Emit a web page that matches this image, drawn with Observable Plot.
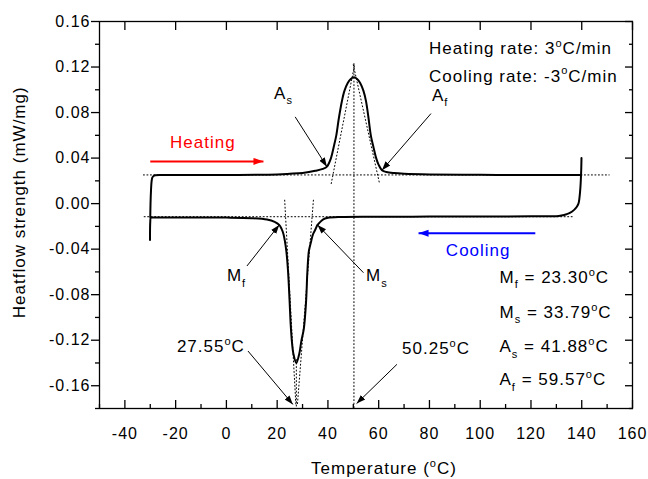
<!DOCTYPE html>
<html><head><meta charset="utf-8">
<script src="https://cdn.jsdelivr.net/npm/d3@7"></script>
<script src="https://cdn.jsdelivr.net/npm/@observablehq/plot@0.6"></script>
<style>body{margin:0;background:#fff;}</style>
</head><body><div id="chart"></div>
<script>
// ---- data ----
const heatT = [-30.0,-29.9,-29.7,-29.5,-29.2,-28.7,-28,-25,0,20,25,30,35,38,39.6,41.2,42.3,43.3,44.3,45.5,46.5,47.8,49,50.25,51.5,52.7,54,55,56,56.9,57.9,59,60,61.3,63,66,70,80,100,120,139.8];
const heatH = [-0.012,0.0,0.012,0.019,0.0228,0.0243,0.0249,0.0251,0.0252,0.0256,0.0262,0.027,0.0288,0.0305,0.0325,0.04,0.05,0.06,0.075,0.09,0.099,0.106,0.1095,0.111,0.1095,0.106,0.099,0.09,0.075,0.06,0.05,0.04,0.034,0.0294,0.0278,0.0268,0.0262,0.0256,0.0253,0.0252,0.0252];
const coolT = [139.9,139.8,139.5,139.1,138.7,138.0,137.0,135.5,134,132,130,120,100,80,60,45,40,38,36.8,35.9,35,34.1,33.3,32.5,31.9,31.4,30.5,29.5,28.7,27.55,26.4,25.8,25.3,24.9,24.3,23.6,22.5,21.7,20.8,19,16,10,0,-20,-29,-29.8,-30.0,-30.1];
const coolH = [0.04,0.03,0.015,0.005,0.0,-0.003,-0.0055,-0.008,-0.0093,-0.0104,-0.011,-0.0112,-0.0113,-0.0114,-0.0115,-0.0117,-0.0125,-0.014,-0.0165,-0.0187,-0.023,-0.027,-0.034,-0.0416,-0.06,-0.0858,-0.11,-0.121,-0.132,-0.14,-0.132,-0.121,-0.105,-0.0858,-0.06,-0.0416,-0.027,-0.022,-0.0187,-0.016,-0.014,-0.0128,-0.0123,-0.0122,-0.0122,-0.0125,-0.016,-0.032];

const xTicks = [-40,-20,0,20,40,60,80,100,120,140,160];
const xMinor = [-50,-30,-10,10,30,50,70,90,110,130,150];
const yTicks = [-0.16,-0.12,-0.08,-0.04,0,0.04,0.08,0.12,0.16];
const yMinor = [-0.18,-0.14,-0.10,-0.06,-0.02,0.02,0.06,0.10,0.14];

// dotted construction lines (baselines, tangents, peak verticals)
const guideId = ["hb","hb","cb","cb","v50","v50","tAs","tAs","tAf","tAf","tMf","tMf","tMs","tMs","v27","v27"];
const guideT  = [-32.7,150.8,-32.4,136.6,50.25,50.25,41.3,50.6,60.2,49.9,22.96,27.36,34.28,28.0,27.55,27.55];
const guideV  = [0.0252,0.0252,-0.0115,-0.0115,0.123,-0.18,0.0176,0.123,0.019,0.123,0.003,-0.176,0.003,-0.176,-0.137,-0.18];

// annotation arrows
const arrFromT = [27.1,80.6,8.1,54.0,8.5,67.2];
const arrFromV = [0.0762,0.0791,-0.0548,-0.0607,-0.1295,-0.1412];
const arrToT   = [39.6,61.3,20.8,35.9,26.2,51.3];
const arrToV   = [0.0325,0.0294,-0.0187,-0.0187,-0.1764,-0.1757];
const lblText  = ["A_{s}","A_{f}","M_{f}","M_{s}","27.55^{o}C","50.25^{o}C"];
const lblT     = [18.8,81.0,0.2,55.0,-19.5,69.2];
const lblV     = [0.0964,0.0951,-0.0636,-0.0636,-0.1255,-0.1277];

// process direction arrows
const dirText  = ["Heating","Cooling"];
const dirColor = ["#ff0000","#0000ff"];
const dirFromT = [-30,121.7];
const dirToT   = [14.6,75.7];
const dirArrV  = [0.0371,-0.026];
const dirLblT  = [-9.3,99.2];
const dirLblV  = [0.0536,-0.0413];

const rateText = ["Heating rate: 3^{o}C/min","Cooling rate: -3^{o}C/min"];
const rateV    = [0.136,0.112];
const rateT    = 79.8;
const resText  = ["M_{f} = 23.30^{o}C","M_{s} = 33.79^{o}C","A_{s} = 41.88^{o}C","A_{f} = 59.57^{o}C"];
const resV     = [-0.065,-0.096,-0.126,-0.155];
const resT     = 107.6;

// ---- tables ----
const heat = heatT.map((t,i)=>({T:t,V:heatH[i]}));
const cool = coolT.map((t,i)=>({T:t,V:coolH[i]}));
const guides = guideT.map((t,i)=>({id:guideId[i],T:t,V:guideV[i]}));
const arrows = arrFromT.map((t,i)=>({x1:t,y1:arrFromV[i],x2:arrToT[i],y2:arrToV[i]}));
const labels = lblText.map((s,i)=>({s,T:lblT[i],V:lblV[i]}));
const dirs = dirText.map((s,i)=>({s,c:dirColor[i],x1:dirFromT[i],x2:dirToT[i],y:dirArrV[i],lt:dirLblT[i],lv:dirLblV[i]}));
const rates = rateText.map((s,i)=>({s,T:rateT,V:rateV[i]}));
const results = resText.map((s,i)=>({s,T:resT,V:resV[i]}));

const none = () => "";
const FS = 17;

const plot = Plot.plot({
  width: 648, height: 479,
  marginLeft: 99, marginRight: 16, marginTop: 21, marginBottom: 71,
  x: {domain: [-50,160]},
  y: {domain: [-0.18,0.16]},
  style: {fontFamily: "'Liberation Sans', Arial, sans-serif", letterSpacing: "1px", background: "white", overflow: "visible"},
  marks: [
    Plot.line(guides, {x:"T", y:"V", z:"id", stroke:"black", strokeWidth:1, strokeDasharray:"1,2.5"}),
    Plot.line(heat, {x:"T", y:"V", stroke:"black", strokeWidth:2, curve:"catmull-rom"}),
    Plot.line(cool, {x:"T", y:"V", stroke:"black", strokeWidth:2, curve:"catmull-rom"}),
    Plot.link(arrows, {x1:"x1", y1:"y1", x2:"x2", y2:"y2", stroke:"black", strokeWidth:1, markerEnd:"arrow"}),
    Plot.link(dirs.slice(0,1), {x1:"x1", x2:"x2", y1:"y", y2:"y", stroke:dirColor[0], strokeWidth:2, markerEnd:"arrow"}),
    Plot.link(dirs.slice(1,2), {x1:"x1", x2:"x2", y1:"y", y2:"y", stroke:dirColor[1], strokeWidth:2, markerEnd:"arrow"}),
    Plot.text(dirs.slice(0,1), {x:"lt", y:"lv", text:"s", fill:dirColor[0], fontSize:FS}),
    Plot.text(dirs.slice(1,2), {x:"lt", y:"lv", text:"s", fill:dirColor[1], fontSize:FS}),
    Plot.text(labels, {x:"T", y:"V", text:"s", textAnchor:"start", fill:"black", fontSize:FS}),
    Plot.text(rates, {x:"T", y:"V", text:"s", textAnchor:"start", fill:"black", fontSize:FS}),
    Plot.text(results, {x:"T", y:"V", text:"s", textAnchor:"start", fill:"black", fontSize:FS}),
    Plot.text([0], {frameAnchor:"left", textAnchor:"middle", lineAnchor:"middle", text:()=>"Heatflow strength (mW/mg)", rotate:-90, dx:-80, dy:-12.7, fill:"black", fontSize:FS}),
    Plot.text([0], {frameAnchor:"bottom", textAnchor:"middle", lineAnchor:"middle", text:()=>"Temperature (^{o}C)", dx:18, dy:59.8, fill:"black", fontSize:FS}),
    Plot.frame({stroke:"black", strokeWidth:1.3}),
    Plot.axisY({anchor:"left", ticks:yTicks, tickSize:8, tickPadding:1, tickFormat:d=>d.toFixed(2), label:null, fontSize:16, stroke:"black", fill:"black", strokeWidth:1.3}),
    Plot.axisY({anchor:"left", ticks:yMinor, tickSize:4, tickFormat:none, label:null, stroke:"black", fill:"none", strokeWidth:1.3}),
    Plot.axisY({anchor:"right", ticks:yTicks, tickSize:8, dx:-8, tickFormat:none, label:null, stroke:"black", fill:"none", strokeWidth:1.3}),
    Plot.axisY({anchor:"right", ticks:yMinor, tickSize:4, dx:-4, tickFormat:none, label:null, stroke:"black", fill:"none", strokeWidth:1.3}),
    Plot.axisX({anchor:"bottom", ticks:xTicks, tickSize:8, dy:-8, tickFormat:none, label:null, stroke:"black", fill:"none", strokeWidth:1.3}),
    Plot.axisX({anchor:"bottom", ticks:xMinor, tickSize:4, dy:-4, tickFormat:none, label:null, stroke:"black", fill:"none", strokeWidth:1.3}),
    Plot.axisX({anchor:"bottom", ticks:xTicks, tickSize:0, tickPadding:19, tickFormat:d=>String(d), label:null, fontSize:16, fill:"black"}),
    Plot.axisX({anchor:"top", ticks:xTicks, tickSize:8, dy:8, tickFormat:none, label:null, stroke:"black", fill:"none", strokeWidth:1.3})
  ]
});
document.getElementById("chart").appendChild(plot);

// rich text: _{sub} and ^{sup}
const NS = "http://www.w3.org/2000/svg";
function richify(node) {
  const s = node.textContent;
  if (!/[_^]\{/.test(s)) return;
  const fs = parseFloat(getComputedStyle(node).fontSize) || 16;
  node.textContent = "";
  let shift = 0;
  const parts = s.split(/([_^]\{[^}]*\})/).filter(p => p !== "");
  for (const p of parts) {
    const t = document.createElementNS(NS, "tspan");
    let target = 0, str = p;
    if (p.startsWith("_{")) { target = 0.3*fs; str = p.slice(2,-1); t.style.fontSize = (0.65*fs)+"px"; }
    else if (p.startsWith("^{")) { target = -0.42*fs; str = p.slice(2,-1); t.style.fontSize = (0.65*fs)+"px"; }
    const dy = target - shift;
    if (dy) t.setAttribute("dy", dy);
    shift = target;
    t.textContent = str;
    node.appendChild(t);
  }
}
plot.querySelectorAll("text").forEach(richify);

// filled arrowheads
plot.querySelectorAll("marker").forEach(m => {
  const color = m.getAttribute("stroke") || "black";
  const size = (color === "black" || color === "currentColor") ? 9 : 10;
  m.setAttribute("viewBox", "-10 -5 10 10");
  m.setAttribute("markerUnits", "userSpaceOnUse");
  m.setAttribute("markerWidth", size);
  m.setAttribute("markerHeight", size);
  m.setAttribute("fill", color);
  m.setAttribute("stroke", "none");
  const p = m.querySelector("path");
  if (p) p.setAttribute("d", "M-10,-3.5L0,0L-10,3.5Z");
});
</script>
</body></html>
